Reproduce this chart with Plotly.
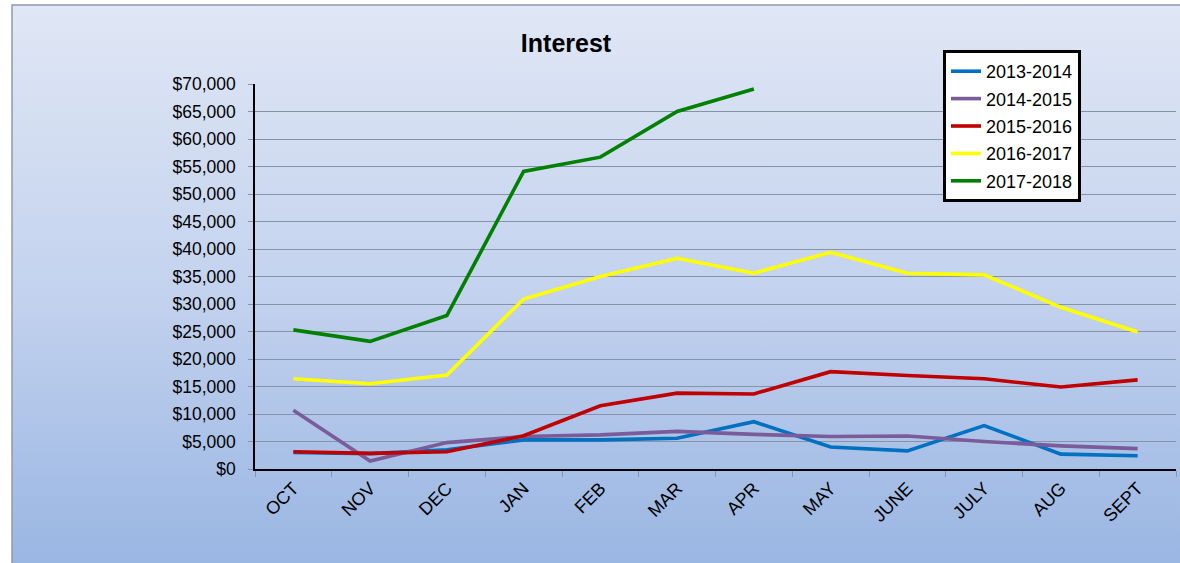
import plotly.graph_objects as go

months = ["OCT", "NOV", "DEC", "JAN", "FEB", "MAR", "APR", "MAY", "JUNE", "JULY", "AUG", "SEPT"]

fy_2013_2014 = [3000, 2800, 3500, 5300, 5300, 5600, 8600, 4000, 3300, 7900, 2700, 2400]
fy_2014_2015 = [10700, 1450, 4800, 5900, 6200, 6850, 6300, 5900, 6000, 5000, 4200, 3700]
fy_2015_2016 = [3150, 2850, 3150, 6050, 11500, 13800, 13650, 17700, 17000, 16400, 14900, 16200]
fy_2016_2017 = [16400, 15500, 17100, 30900, 35000, 38300, 35600, 39400, 35600, 35300, 29400, 24900]
fy_2017_2018 = [25300, 23200, 27900, 54100, 56700, 65000, 69100]

series_names = ["2013-2014", "2014-2015", "2015-2016", "2016-2017", "2017-2018"]
series_values = [fy_2013_2014, fy_2014_2015, fy_2015_2016, fy_2016_2017, fy_2017_2018]
series_colors = ["#0070c0", "#7a5c9a", "#c00000", "#ffff00", "#008000"]

W, H = 1180, 563
L, R, T, B = 255, 1176, 84, 469  # plot area pixels

fig = go.Figure()
for i, (name, vals, col) in enumerate(zip(series_names, series_values, series_colors)):
    fig.add_trace(go.Scatter(
        x=months[:len(vals)], y=vals, name=name, mode="lines",
        line=dict(color=col, width=3.6), legendgroup=f"g{i}",
    ))

def px_x(p):
    return (p - L) / (R - L)

def px_y(p):
    return (B - p) / (B - T)

svg = ("data:image/svg+xml;utf8,"
       "<svg xmlns='http://www.w3.org/2000/svg' width='100' height='100' preserveAspectRatio='none'>"
       "<defs><linearGradient id='g' x1='0' y1='0' x2='0' y2='1'>"
       "<stop offset='0' stop-color='%23e0e7f5'/>"
       "<stop offset='0.5' stop-color='%23c3d2ee'/>"
       "<stop offset='1' stop-color='%2397b4e2'/>"
       "</linearGradient></defs>"
       "<rect width='100' height='100' fill='url(%23g)'/></svg>")

x0, y0 = px_x(12), px_y(5)
x1, y1 = px_x(1200), px_y(580)
fig.add_layout_image(dict(
    source=svg, xref="paper", yref="paper", x=x0, y=y0,
    sizex=x1 - x0, sizey=y0 - y1, xanchor="left", yanchor="top",
    sizing="stretch", layer="below",
))
fig.add_shape(type="rect", xref="paper", yref="paper", x0=x0, y0=y1, x1=x1, y1=y0,
              line=dict(color="#8e9bb0", width=1.5), fillcolor="rgba(0,0,0,0)", layer="below")

fig.update_layout(
    width=W, height=H,
    margin=dict(l=L, r=W - R, t=T, b=H - B, autoexpand=False),
    paper_bgcolor="white", plot_bgcolor="rgba(0,0,0,0)",
    font=dict(family="Liberation Sans, Arial, sans-serif", color="#000000"),
    title=dict(text="<b>Interest</b>", font=dict(size=25, color="#000000"),
               x=px_x(566), xref="paper", xanchor="center",
               y=1 - 43 / H, yref="container", yanchor="middle"),
    showlegend=True,
    legend=dict(
        x=px_x(943), y=px_y(50), xanchor="left", yanchor="top",
        bgcolor="white", bordercolor="black", borderwidth=3,
        font=dict(size=18, color="black"), traceorder="grouped", tracegroupgap=1,
        itemwidth=30,
    ),
    xaxis=dict(
        type="category", range=[-0.5, 11.5], tickson="boundaries",
        ticks="outside", ticklen=6, tickcolor="#8a94a6", tickwidth=1,
        tickangle=-45, tickfont=dict(size=18),
        showline=True, linecolor="black", linewidth=1.5, showgrid=False,
        categoryorder="array", categoryarray=months,
    ),
    yaxis=dict(
        range=[0, 70000], dtick=5000, tickprefix="$", tickformat=",",
        ticks="outside", ticklen=5, tickcolor="#8a94a6",
        ticklabelstandoff=9,
        showline=True, linecolor="black", linewidth=1.5,
        showgrid=True, gridcolor="#8793a8", gridwidth=1.3,
        tickfont=dict(size=17.5), zeroline=False,
    ),
)

fig.write_html("out.html", config={"displayModeBar": False},
               post_script="document.body.style.margin='0';document.body.style.overflow='hidden';")
